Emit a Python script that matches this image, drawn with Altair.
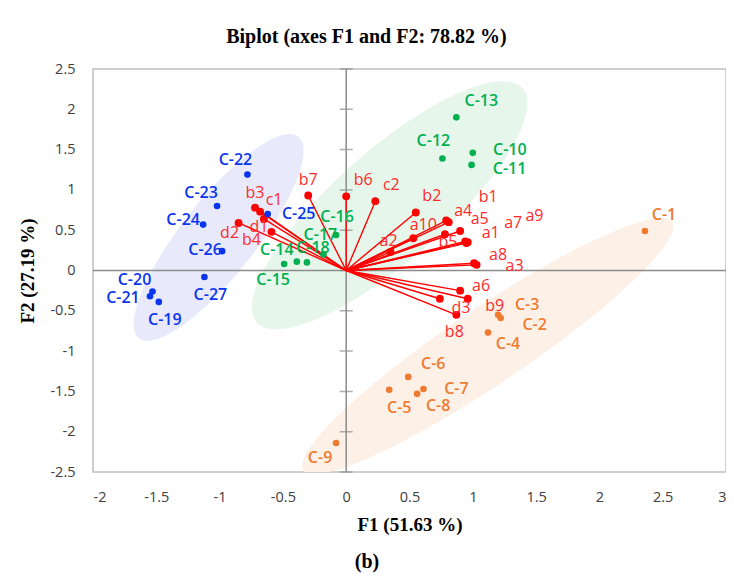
import altair as alt
import numpy as np
import pandas as pd

# ---------------- data ----------------
obs_names = ["C-1", "C-2", "C-3", "C-4", "C-5", "C-6", "C-7", "C-8", "C-9",
             "C-10", "C-11", "C-12", "C-13", "C-14", "C-15", "C-16", "C-17", "C-18",
             "C-19", "C-20", "C-21", "C-22", "C-23", "C-24", "C-25", "C-26", "C-27"]
obs_f1 = [2.36, 1.22, 1.20, 1.12, 0.34, 0.49, 0.61, 0.56, -0.08,
          1.00, 0.99, 0.76, 0.87, -0.39, -0.49, -0.08, -0.18, -0.31,
          -1.48, -1.53, -1.55, -0.78, -1.02, -1.13, -0.62, -0.98, -1.12]
obs_f2 = [0.49, -0.59, -0.55, -0.77, -1.48, -1.32, -1.47, -1.53, -2.14,
          1.46, 1.31, 1.39, 1.90, 0.11, 0.08, 0.44, 0.20, 0.10,
          -0.39, -0.26, -0.32, 1.19, 0.80, 0.57, 0.70, 0.24, -0.08]
obs_group = ["orange"] * 9 + ["green"] * 9 + ["blue"] * 9

var_names = ["a1", "a2", "a3", "a4", "a5", "a6", "a7", "a8", "a9", "a10",
             "b1", "b2", "b3", "b4", "b5", "b6", "b7", "b8", "b9",
             "c1", "c2", "d1", "d2", "d3"]
var_f1 = [0.96, 0.35, 1.03, 0.79, 0.81, 0.90, 0.94, 1.01, 0.95, 0.53,
          0.90, 0.55, -0.72, -0.59, 0.78, 0.00, -0.30, 0.87, 0.96,
          -0.68, 0.23, -0.65, -0.85, 0.74]
var_f2 = [0.35, 0.23, 0.07, 0.62, 0.60, -0.25, 0.36, 0.09, 0.34, 0.40,
          0.49, 0.72, 0.78, 0.48, 0.45, 0.92, 0.93, -0.55, -0.35,
          0.73, 0.86, 0.64, 0.59, -0.35]

# group ellipses (data units): centre, major and minor semi-diameter vectors
ell_group = ["blue", "green", "orange"]
ell_center = [(-1.008, 0.41), (0.343, 0.81), (1.118, -0.938)]
ell_major = [(0.63, 1.25), (1.05, 1.45), (1.457, 1.54)]
ell_minor = [(0.23, -0.29), (0.285, -0.514), (0.167, -0.392)]

tick_vals = [-2.5, -2, -1.5, -1, -0.5, 0, 0.5, 1, 1.5, 2, 2.5]
x_ticks = [-2, -1.5, -1, -0.5, 0, 0.5, 1, 1.5, 2, 2.5, 3]

# ---------------- layout / style ----------------
W, H = 633, 403
XD, YD = [-2, 3], [-2.5, 2.5]
PX = W / (XD[1] - XD[0])
PY = H / (YD[1] - YD[0])

label_offsets = {
    "C-1": (19, -16), "C-2": (34, 7), "C-3": (29, -10), "C-4": (20, 11), "C-5": (10, 18),
    "C-6": (25, -13), "C-7": (33, 0), "C-8": (21, 12), "C-9": (-16, 15),
    "C-10": (37, -3), "C-11": (38, 4), "C-12": (-9, -17), "C-13": (25, -16),
    "C-14": (-20, -12), "C-15": (-11, 16), "C-16": (1, -18), "C-17": (-3, -19), "C-18": (6, -14),
    "C-19": (6, 18), "C-20": (-18, -11), "C-21": (-27, 2), "C-22": (-12, -15), "C-23": (-16, -13),
    "C-24": (-20, -5), "C-25": (31, 0), "C-26": (-17, -1), "C-27": (6, 18),
    "a1": (23, -9), "a2": (-2, -11), "a3": (38, 1), "a4": (17, -10), "a5": (31, -3),
    "a6": (21, -5), "a7": (48, -18), "a8": (24, -8), "a9": (68, -27), "a10": (10, -13),
    "b1": (28, -34), "b2": (16, -16), "b3": (0, -15), "b4": (-20, 8), "b5": (3, 8),
    "b6": (17, -16), "b7": (0, -16), "b8": (-2, 17), "b9": (27, 7),
    "c1": (14, -12), "c2": (16, -16), "d1": (-5, 8), "d2": (-9, 10), "d3": (21, 9),
}

grp_colors = {"orange": "#ee7b30", "green": "#00b050", "blue": "#0a35f0"}
ell_colors = {"orange": "#fdf0e6", "green": "#e7f6eb", "blue": "#e8eafb"}
RED = "#ff0000"
LABEL_FONT = "Open Sans"
SERIF = "Liberation Serif"

# ---------------- tables ----------------
obs = pd.DataFrame({"name": obs_names, "f1": obs_f1, "f2": obs_f2, "grp": obs_group})
obs["lx"] = [x + label_offsets[n][0] / PX for n, x in zip(obs_names, obs_f1)]
obs["ly"] = [y - label_offsets[n][1] / PY for n, y in zip(obs_names, obs_f2)]

var = pd.DataFrame({"name": var_names, "f1": var_f1, "f2": var_f2})
var["x0"] = 0.0
var["y0"] = 0.0
var["lx"] = [x + label_offsets[n][0] / PX for n, x in zip(var_names, var_f1)]
var["ly"] = [y - label_offsets[n][1] / PY for n, y in zip(var_names, var_f2)]

rows = []
for g, c, m, n in zip(ell_group, ell_center, ell_major, ell_minor):
    A = np.array([[m[0], n[0]], [m[1], n[1]]])
    Ai = np.linalg.inv(A)
    Q = Ai.T @ Ai
    half = np.sqrt(Q[1, 1] / (Q[0, 0] * Q[1, 1] - Q[0, 1] ** 2))
    for t in np.linspace(np.pi, 0, 241):
        dx = half * np.cos(t)
        disc = max(Q[0, 1] ** 2 * dx ** 2 - Q[1, 1] * (Q[0, 0] * dx ** 2 - 1), 0.0)
        y1 = (-Q[0, 1] * dx - np.sqrt(disc)) / Q[1, 1]
        y2 = (-Q[0, 1] * dx + np.sqrt(disc)) / Q[1, 1]
        rows.append({"grp": g, "x": c[0] + dx, "ylo": c[1] + y1, "yhi": c[1] + y2})
ell = pd.DataFrame(rows)

xs = alt.Scale(domain=XD, nice=False, zero=False)
ys = alt.Scale(domain=YD, nice=False, zero=False)

xaxis = alt.Axis(values=x_ticks, grid=False, domain=False, ticks=False,
                 labelExpr="'' + datum.value", labelFont=LABEL_FONT, labelFontSize=14.5,
                 labelColor="#404040", labelPadding=18, title="F1 (51.63 %)",
                 titleFont=SERIF, titleFontSize=19, titleFontWeight="bold",
                 titleColor="#000000", titlePadding=12)
yaxis = alt.Axis(values=tick_vals, grid=False, domain=False, ticks=False,
                 labelExpr="'' + datum.value", labelFont=LABEL_FONT, labelFontSize=14.5,
                 labelColor="#404040", labelPadding=18, title="F2 (27.19 %)",
                 titleFont=SERIF, titleFontSize=19, titleFontWeight="bold",
                 titleColor="#000000", titlePadding=12)

ellipses = alt.Chart(ell).mark_area(clip=True).encode(
    x=alt.X("x:Q", scale=xs, axis=xaxis),
    y=alt.Y("ylo:Q", scale=ys, axis=yaxis),
    y2="yhi:Q",
    color=alt.Color("grp:N", scale=alt.Scale(domain=list(ell_colors.keys()),
                                             range=list(ell_colors.values())), legend=None),
    detail="grp:N",
)

zero_df = pd.DataFrame({"v": [0]})
vline = alt.Chart(zero_df).mark_rule(color="#8c8c8c", strokeWidth=1.5).encode(x=alt.X("v:Q", scale=xs))
hline = alt.Chart(zero_df).mark_rule(color="#8c8c8c", strokeWidth=1.5).encode(y=alt.Y("v:Q", scale=ys))
ticks = alt.Chart(pd.DataFrame({"t": tick_vals, "z": 0})).mark_tick(
    color="#8c8c8c", size=13, thickness=1.5, orient="horizontal").encode(
    x=alt.X("z:Q", scale=xs), y=alt.Y("t:Q", scale=ys))

vectors = alt.Chart(var).mark_rule(color=RED, strokeWidth=1.4).encode(
    x=alt.X("x0:Q", scale=xs), y=alt.Y("y0:Q", scale=ys), x2="f1:Q", y2="f2:Q")
var_pts = alt.Chart(var).mark_circle(color=RED, size=62, opacity=1).encode(
    x=alt.X("f1:Q", scale=xs), y=alt.Y("f2:Q", scale=ys))
var_lbl = alt.Chart(var).mark_text(color="#ff2a2a", font=LABEL_FONT, fontSize=16,
                                   align="center", baseline="middle").encode(
    x=alt.X("lx:Q", scale=xs), y=alt.Y("ly:Q", scale=ys), text="name:N")

colscale = alt.Scale(domain=list(grp_colors.keys()), range=list(grp_colors.values()))
obs_pts = alt.Chart(obs).mark_circle(size=44, opacity=1).encode(
    x=alt.X("f1:Q", scale=xs), y=alt.Y("f2:Q", scale=ys),
    color=alt.Color("grp:N", scale=colscale, legend=None))
obs_lbl = alt.Chart(obs).mark_text(font=LABEL_FONT, fontSize=16, fontWeight=600,
                                   align="center", baseline="middle").encode(
    x=alt.X("lx:Q", scale=xs), y=alt.Y("ly:Q", scale=ys), text="name:N",
    color=alt.Color("grp:N", scale=colscale, legend=None))

panel_tag = alt.Chart(zero_df).mark_text(text="(b)", font=SERIF, fontSize=20, fontWeight="bold",
                                         color="#000000", clip=False).encode(
    x=alt.value(274), y=alt.value(493))

chart = alt.layer(ellipses, vline, hline, ticks, vectors, var_pts, obs_pts, var_lbl, obs_lbl,
                  panel_tag).resolve_scale(color="independent").properties(
    width=W, height=H,
    autosize=alt.AutoSizeParams(type="none"),
    padding={"left": 85, "top": 61, "right": 0, "bottom": 104},
    title=alt.TitleParams("Biplot (axes F1 and F2: 78.82 %)", font=SERIF, fontSize=20,
                          fontWeight="bold", color="#000000", anchor="middle",
                          dx=-43, offset=14),
).configure_view(stroke="#c0c0c0", strokeWidth=1.5)

chart.save("out.html", embed_options={"renderer": "svg", "actions": False})
